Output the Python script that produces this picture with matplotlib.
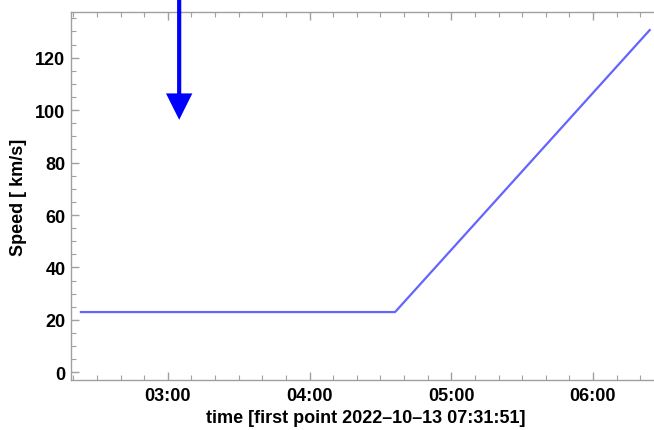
import matplotlib.pyplot as plt
from matplotlib.ticker import MultipleLocator, FuncFormatter

# speed profile, time in minutes after the reference hour
time_min = [143.2, 276.2, 384.0]
speed = [23.0, 23.0, 130.5]

# marker arrow pointing down at the event
arrow_time = 184.8
arrow_speed = 96.3

plt.rcParams['font.family'] = ['Liberation Sans', 'DejaVu Sans']
plt.rcParams['font.weight'] = 'bold'

fig = plt.figure(figsize=(6.54, 4.31), dpi=100)
ax = fig.add_axes([71 / 654, 1 - 381 / 431, 1 - 71 / 654 + 0.01, (381 - 13) / 431])

ax.plot(time_min, speed, color='#6464ff', lw=1.6, clip_on=False)

ax.set_xlim(139.0, 388.6)
ax.set_ylim(-2.9, 137.4)

ax.xaxis.set_major_locator(MultipleLocator(60))
ax.xaxis.set_minor_locator(MultipleLocator(10))
ax.xaxis.set_major_formatter(FuncFormatter(lambda v, p: '%02d:%02d' % (v // 60, v % 60)))
ax.yaxis.set_major_locator(MultipleLocator(20))
ax.yaxis.set_minor_locator(MultipleLocator(5))

for s in ['left', 'bottom', 'top']:
    ax.spines[s].set_color('#a0a0a0')
    ax.spines[s].set_linewidth(1.0)
ax.spines['right'].set_visible(False)

ax.tick_params(which='both', direction='in', color='#a0a0a0', top=True, right=False,
               labelsize=13)
ax.tick_params(axis='y', pad=4)
ax.tick_params(axis='x', pad=5)
ax.tick_params(which='major', length=6, width=1.0)
ax.tick_params(which='minor', length=3.5, width=0.8)

ax.set_xlabel('time [first point 2022\u201310\u201313 07:31:51]', fontsize=13,
              fontweight='bold', labelpad=4)
ax.set_ylabel('Speed [ km/s]', fontsize=13, fontweight='bold', labelpad=6)

# arrow sizes are in points (0.72 pt per pixel at dpi 100)
ax.annotate('', xy=(arrow_time, arrow_speed), xycoords='data',
            xytext=(arrow_time, 1.0), textcoords=('data', 'figure fraction'),
            arrowprops=dict(width=3.0, headwidth=19, headlength=19,
                            facecolor='#0000ff', edgecolor='none', shrink=0),
            annotation_clip=False)

fig.savefig('out.png', dpi=100)
